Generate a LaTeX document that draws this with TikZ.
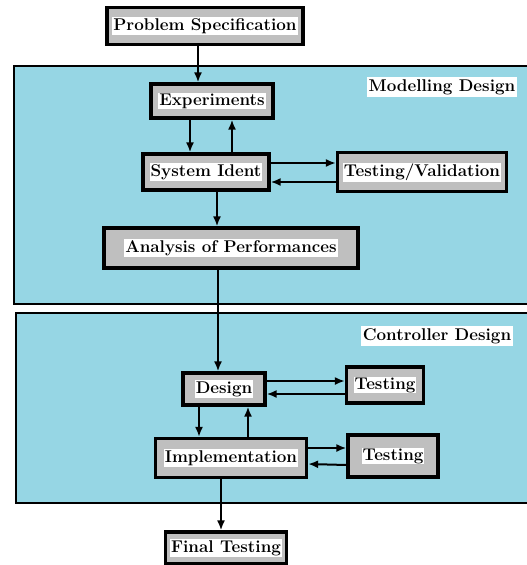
\documentclass[tikz,border=0pt]{standalone}
\usepackage{fontspec}
\usepackage{tikz}
\usetikzlibrary{positioning}
\usetikzlibrary{arrows.meta}
\definecolor{panelblue}{RGB}{150,214,228}
\newcommand{\wbox}[1]{{\setlength{\fboxsep}{1pt}\colorbox{white}{#1}}}
\tikzset{every picture/.style={line width=1.5pt},
  blk/.style={draw, line width=3.2pt, fill=gray!50, inner sep=0pt, font=\fontsize{17}{19}\selectfont\bfseries},
  panel/.style={draw, line width=2.5pt, fill=panelblue},
  tag/.style={fill=white, inner sep=2pt, font=\fontsize{17}{19}\selectfont\bfseries},
  arr/.style={-{Latex[length=10pt,width=8pt]}, line width=2pt}}
\begin{document}
\begin{tikzpicture}[x=1pt,y=-1pt]
\useasboundingbox (0,0) rectangle (527,565);
% the two design stages
\draw[panel] (14,66) rectangle (545,304);
\draw[panel] (16,313) rectangle (545,503);
\node (mtag) [tag] at (442,87) {Modelling Design};
\node (ctag) [tag] at (437,336) {Controller Design};

\node (spec) [blk, minimum width=196pt, minimum height=37pt] at (205,26) {\wbox{Problem Specification}};
\node (exper) [blk, minimum width=122pt, minimum height=34pt] at (212,101) {\wbox{Experiments}};
\node (sysid) [blk, minimum width=126pt, minimum height=36pt] at (206,172) {\wbox{System Ident}};
\node (testval) [blk, minimum width=169pt, minimum height=39pt] at (422,172) {\wbox{Testing/Validation}};
\node (anal) [blk, minimum width=254pt, minimum height=40pt] at (231,248) {\wbox{Analysis of Performances}};
\node (design) [blk, minimum width=82pt, minimum height=32pt] at (224,389) {\wbox{Design}};
\node (test1) [blk, minimum width=77pt, minimum height=36pt] at (385,385) {\wbox{Testing}};
\node (impl) [blk, minimum width=151pt, minimum height=39pt] at (231,458) {\wbox{Implementation}};
\node (test2) [blk, minimum width=90pt, minimum height=42pt] at (393,456) {\wbox{Testing}};
\node (final) [blk, minimum width=121pt, minimum height=32pt] at (226,548) {\wbox{Final Testing}};

\draw[arr] ([xshift=-7pt]spec.south) -- ([xshift=-14pt]exper.north);
\draw[arr] ([xshift=-22pt]exper.south) -- ([xshift=-16pt]sysid.north);
\draw[arr] ([xshift=26pt]sysid.north) -- ([xshift=20pt]exper.south);
\draw[arr] ([yshift=9pt]sysid.east) -- ([yshift=9pt]testval.west);
\draw[arr] ([yshift=-10pt]testval.west) -- ([yshift=-10pt]sysid.east);
\draw[arr] ([xshift=11pt]sysid.south) -- ([xshift=-14pt]anal.north);
\draw[arr] ([xshift=-13pt]anal.south) -- ([xshift=-6pt]design.north);
\draw[arr] ([yshift=8pt]design.east) -- ([yshift=4pt]test1.west);
\draw[arr] ([yshift=-9pt]test1.west) -- ([yshift=-5pt]design.east);
\draw[arr] ([xshift=-25pt]design.south) -- ([xshift=-32pt]impl.north);
\draw[arr] ([xshift=17pt]impl.north) -- ([xshift=24pt]design.south);
\draw[arr] ([yshift=10pt]impl.east) -- ([yshift=8pt]test2.west);
\draw[arr] ([yshift=-9pt]test2.west) -- ([yshift=-6pt]impl.east);
\draw[arr] ([xshift=-10pt]impl.south) -- ([xshift=-5pt]final.north);
\end{tikzpicture}
\end{document}
